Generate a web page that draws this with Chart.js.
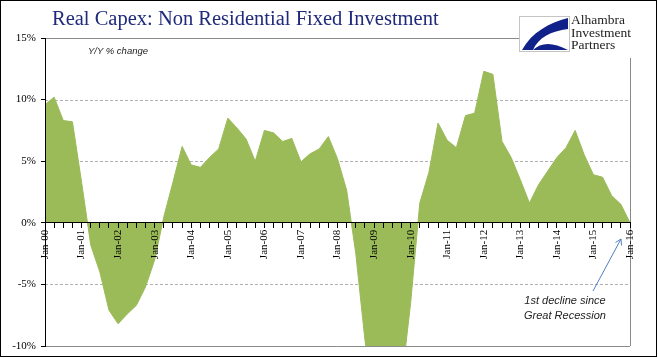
<!DOCTYPE html>
<html>
<head>
<meta charset="utf-8">
<script src="https://cdn.jsdelivr.net/npm/chart.js@4.4.0/dist/chart.umd.min.js"></script>
<style>
  html, body { margin: 0; padding: 0; background: #fff; }
  #wrap { position: relative; width: 658px; height: 358px; overflow: hidden; }
  #frame { position: absolute; left: 0; top: 0; width: 655px; height: 355px; border: 1px solid #000; }
  #chart { position: absolute; left: 0; top: 0; }
  .title { position: absolute; left: 52px; top: 7px; font-family: 'Liberation Serif', serif; font-size: 20.5px; color: #1f2a7a; white-space: nowrap; }
  .sub { position: absolute; left: 88px; top: 45px; font: italic 9.5px 'Liberation Sans', sans-serif; color: #222; }
  .logo-text { position: absolute; left: 571px; top: 14px; font: 13.5px/12.5px 'Liberation Serif', serif; color: #222; }
  .note { position: absolute; left: 515px; top: 293px; width: 100px; text-align: center; font: italic 11px/15px 'Liberation Sans', sans-serif; color: #222; }
  svg { position: absolute; left: 0; top: 0; }
</style>
</head>
<body>
<div id="wrap">
  <canvas id="chart" width="658" height="358"></canvas>
  <div id="frame"></div>
  <div class="title">Real Capex: Non Residential Fixed Investment</div>
  <div class="sub">Y/Y % change</div>
  <svg width="658" height="358">
    <!-- logo box + swoosh -->
    <rect x="519.5" y="16.5" width="50" height="35" fill="#fff" stroke="#c4c4c4"/>
    <path d="M568,18 C549,23 532,32 522,50 L533,50 C538,38 551,31 568,29 Z" fill="#10228a"/>
    <path d="M533,50 C541,42 553,42 568,50 Z" fill="#10228a"/>
    <!-- annotation arrow -->
    <line x1="593" y1="291" x2="621" y2="239" stroke="#4f7fc0" stroke-width="1"/>
    <polyline points="615.5,242.5 621,239 621.5,245.5" fill="none" stroke="#4f7fc0" stroke-width="1"/>
  </svg>
  <div class="logo-text">Alhambra<br>Investment<br>Partners</div>
  <div class="note">1st decline since<br>Great Recession</div>
</div>
<script>
// quarterly y/y % change, Q1 2000 .. Q1 2016
const years = ['00','01','02','03','04','05','06','07','08','09','10','11','12','13','14','15','16'];
const quarterMonths = ['Jan', 'Apr', 'Jul', 'Oct'];
const capexYoY = [
  9.6, 10.2, 8.3, 8.2,
  3.3, -1.8, -4.0, -7.1,
  -8.2, -7.4, -6.7, -5.2,
  -3.0, 0.5, 3.3, 6.2,
  4.7, 4.5, 5.3, 6.0,
  8.5, 7.7, 6.8, 5.0,
  7.5, 7.3, 6.6, 6.85,
  4.95, 5.6, 6.0, 7.0,
  5.2, 2.65, -2.5, -9.5,
  -14.5, -18.5, -18.0, -13.0,
  -6.5, 1.6, 4.1, 8.1,
  6.7, 6.1, 8.7, 8.9,
  12.3, 12.05, 6.6, 5.3,
  3.5, 1.6, 3.1, 4.2,
  5.3, 6.1, 7.5, 5.5,
  3.9, 3.7, 2.2, 1.5,
  0.0
];
const yTicks = [15, 10, 5, 0, -5, -10];
const dashedLevels = [10, 5, -5];

const categories = [];
years.forEach(y => quarterMonths.forEach(m => categories.push(m + '-' + y)));
categories.length = capexYoY.length;

const LOGO_LEFT = 519, LOGO_BOTTOM = 52;

// gray frame + dashed gridlines under the area
const framePlugin = {
  id: 'frameGrid',
  beforeDatasetsDraw(chart) {
    const { ctx, chartArea: a, scales: { y } } = chart;
    const hline = (x1, x2, v) => {
      const py = Math.round(y.getPixelForValue(v)) + 0.5;
      ctx.beginPath(); ctx.moveTo(x1, py); ctx.lineTo(x2, py); ctx.stroke();
    };
    ctx.save();
    ctx.lineWidth = 1;
    ctx.strokeStyle = '#b0b0b0';
    ctx.setLineDash([3, 2]);
    dashedLevels.forEach(v => hline(a.left, a.right, v));
    ctx.setLineDash([]);
    ctx.strokeStyle = '#8a8a8a';
    hline(a.left, LOGO_LEFT, yTicks[0]);
    hline(a.left, a.right, yTicks[yTicks.length - 1]);
    const rx = Math.round(a.right) + 0.5;
    ctx.beginPath(); ctx.moveTo(rx, LOGO_BOTTOM + 6); ctx.lineTo(rx, a.bottom); ctx.stroke();
    ctx.restore();
  }
};

new Chart(document.getElementById('chart'), {
  type: 'line',
  data: {
    labels: categories,
    datasets: [{
      data: capexYoY,
      fill: 'origin',
      backgroundColor: '#9bbb59',
      borderColor: '#9bbb59',
      borderWidth: 1,
      pointRadius: 0,
      tension: 0
    }]
  },
  options: {
    responsive: false,
    animation: false,
    devicePixelRatio: 1,
    layout: { padding: { left: 0, top: 38, right: 28, bottom: 12 } },
    plugins: { legend: { display: false }, tooltip: { enabled: false } },
    scales: {
      x: {
        type: 'category',
        position: { y: 0 },
        grid: { z: 1, drawOnChartArea: false, drawTicks: true, tickLength: 5, color: '#000', tickColor: '#000' },
        border: { z: 1, color: '#000', width: 1 },
        ticks: {
          z: 1,
          autoSkip: false,
          minRotation: 90,
          maxRotation: 90,
          padding: 2,
          color: '#000',
          font: { family: 'Liberation Serif', size: 11 },
          callback: (v, i) => (i % 4 === 0 ? categories[i] : '')
        }
      },
      y: {
        min: -10,
        max: 15,
        afterFit: s => { s.width = 45; },
        afterBuildTicks: s => { s.ticks = yTicks.map(v => ({ value: v })); },
        grid: { z: 1, drawOnChartArea: false, drawTicks: true, tickLength: 4, color: '#000' },
        border: { z: 1, color: '#000', width: 1 },
        ticks: {
          z: 1,
          padding: 5,
          color: '#000',
          font: { family: 'Liberation Serif', size: 11 },
          callback: v => v + '%'
        }
      }
    }
  },
  plugins: [framePlugin]
});
</script>
</body>
</html>
